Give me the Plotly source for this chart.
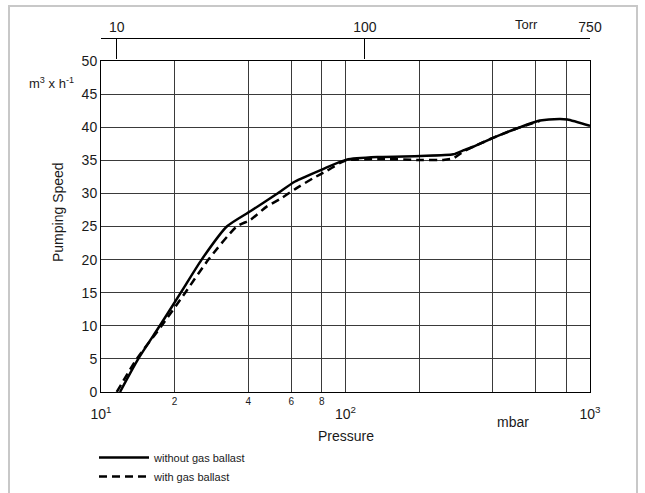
import plotly.graph_objects as go

# pressure in mbar, pumping speed in m3/h
p_without = [11.96, 14.2, 17.4, 21.2, 25.8, 32.7, 40.8, 52.3, 62.2, 80.1, 101, 138, 203, 276, 303, 333, 408, 501, 625, 754, 808, 1000]
s_without = [0, 5, 10, 15, 20, 25, 27.3, 29.9, 31.8, 33.6, 35.1, 35.5, 35.65, 35.9, 36.5, 37.05, 38.5, 39.8, 41.0, 41.25, 41.15, 40.2]

p_with = [11.6, 14.0, 17.7, 22.1, 27.5, 35.9, 40.8, 47.6, 54.8, 63.1, 73.8, 83.8, 95, 101, 138, 203, 251, 276, 303, 333, 408, 501, 625]
s_with = [0, 5, 10, 15, 20, 25, 26.0, 28.0, 29.3, 30.8, 32.3, 33.4, 34.6, 35.0, 35.2, 35.05, 35.05, 35.3, 36.3, 37.05, 38.5, 39.8, 40.95]

grid_mbar = [10, 20, 40, 60, 80, 100, 200, 400, 600, 800, 1000]
grid_text = ["", "2", "4", "6", "8", "", "", "", "", "", ""]
decade_vals = [10, 100, 1000]
decade_text = ["10<sup>1</sup>", "10<sup>2</sup>", "10<sup>3</sup>"]
torr_vals = [11.6, 120, 1000]   # where the Torr ticks sit on the mbar scale
torr_text = ["10", "100", "750"]

FONT = "Liberation Sans, Arial, sans-serif"
INK = "#1a1a1a"
GRID = "#3a3a3a"

fig = go.Figure()

fig.add_trace(go.Scatter(
    x=p_without, y=s_without, mode="lines", name="without gas ballast",
    line=dict(color="black", width=2.5, shape="spline", smoothing=0.6),
))
fig.add_trace(go.Scatter(
    x=p_with, y=s_with, mode="lines", name="with gas ballast",
    line=dict(color="black", width=2.5, dash="8px,5px", shape="spline", smoothing=0.6),
))

fig.update_layout(
    width=645, height=493,
    margin=dict(l=101, r=55, t=38, b=101, autoexpand=False),
    paper_bgcolor="white", plot_bgcolor="white",
    font=dict(family=FONT, color=INK),
    xaxis=dict(
        type="log", range=[1, 3],
        tickvals=grid_mbar, ticktext=grid_text,
        tickfont=dict(size=10), ticks="",
        showgrid=True, gridcolor=GRID, gridwidth=1,
        showline=True, linecolor="black", linewidth=1, mirror=True,
        zeroline=False,
    ),
    xaxis3=dict(
        type="log", range=[1, 3], overlaying="x", anchor="y", side="bottom",
        tickvals=decade_vals, ticktext=decade_text,
        tickfont=dict(size=14), ticks="", ticklabelstandoff=12,
        showgrid=False, showline=False, zeroline=False,
    ),
    xaxis2=dict(
        type="log", range=[1, 3], overlaying="x", anchor="free", position=1, side="top",
        tickvals=torr_vals, ticktext=torr_text,
        tickfont=dict(size=14), ticks="inside", ticklen=20, tickwidth=1, tickcolor="black",
        showgrid=False, showline=True, linecolor="black", linewidth=1, zeroline=False,
    ),
    yaxis=dict(
        range=[0, 50], dtick=5, domain=[0, 331 / 354],
        tickfont=dict(size=14), ticks="",
        showgrid=True, gridcolor=GRID, gridwidth=1,
        showline=True, linecolor="black", linewidth=1, mirror=True,
        zeroline=False,
    ),
    showlegend=True,
    legend=dict(
        x=(94 - 101) / 489, y=(392 - 443) / 354, xanchor="left", yanchor="top",
        font=dict(size=11), bgcolor="rgba(0,0,0,0)", itemwidth=50,
        tracegroupgap=0,
    ),
)

# invisible anchors so the extra x axes get drawn
fig.add_trace(go.Scatter(x=[10, 1000], y=[0, 0], xaxis="x2", mode="none", showlegend=False, hoverinfo="skip"))
fig.add_trace(go.Scatter(x=[10, 1000], y=[0, 0], xaxis="x3", mode="none", showlegend=False, hoverinfo="skip"))


def label(text, px, py, size=14, **kw):
    # place a text by its centre, given in picture pixels
    fig.add_annotation(text=text, xref="paper", yref="paper",
                       x=(px - 101) / 489, y=(392 - py) / 354,
                       yanchor="middle", showarrow=False, font=dict(size=size), **kw)


label("Torr", 540, 24, size=13)
label("mbar", 531, 422)
label("Pressure", 346, 436)
label("Pumping Speed", 48, 212, textangle=-90)
label("m<sup>3</sup> x h<sup>-1</sup>", 76, 83, size=13, xanchor="right")

# light grey frame around the whole figure
fig.add_shape(type="rect", xref="paper", yref="paper",
              x0=(9 - 101) / 489, x1=(637 - 101) / 489, y0=(392 - 520) / 354, y1=(392 - 6) / 354,
              line=dict(color="#c8c8c8", width=2), fillcolor="rgba(0,0,0,0)", layer="below")

fig.write_html("out.html", config={"displayModeBar": False},
               post_script="document.body.style.margin='0px';")
